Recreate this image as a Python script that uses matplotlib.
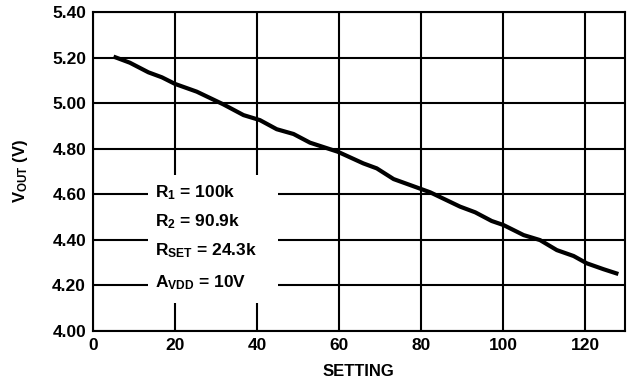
import matplotlib.pyplot as plt
from matplotlib.patches import Rectangle

plt.rcParams['font.family'] = ['Liberation Sans', 'DejaVu Sans']
plt.rcParams['font.weight'] = 'bold'
plt.rcParams['mathtext.default'] = 'regular'

# curve
setting = [5, 9, 13.5, 16.8, 20, 25.3, 31.8, 36.7, 40.7, 44.8, 48.9, 52.9, 59.7,
           65.9, 69.2, 73.3, 77.3, 82.2, 89.5, 93.2, 97.2, 100.1, 105, 109,
           113.1, 117.2, 120.4, 124.5, 128.1]
vout = [5.204, 5.177, 5.135, 5.113, 5.084, 5.05, 4.994, 4.947, 4.925, 4.885, 4.864,
        4.826, 4.786, 4.735, 4.713, 4.666, 4.64, 4.608, 4.545, 4.52, 4.482, 4.464,
        4.42, 4.398, 4.354, 4.328, 4.296, 4.27, 4.249]

xticks = [0, 20, 40, 60, 80, 100, 120]
yticks = [4.00, 4.20, 4.40, 4.60, 4.80, 5.00, 5.20, 5.40]
notes = ['R$_1$ = 100k', 'R$_2$ = 90.9k', 'R$_{SET}$ = 24.3k', 'A$_{VDD}$ = 10V']
note_y = [4.605, 4.477, 4.352, 4.213]

fig = plt.figure(figsize=(6.31, 3.84), dpi=100)
ax = fig.add_axes([0.1474, 0.1388, 0.8423, 0.83])

ax.plot(setting, vout, color='black', lw=3.0, zorder=4, solid_capstyle='butt')

ax.set_xlim(0, 129.6)
ax.set_ylim(4.0, 5.4)
ax.set_xticks(xticks)
ax.set_yticks(yticks)
ax.set_yticklabels([f'{v:.2f}' for v in yticks])
ax.grid(True, color='black', lw=1.5)
ax.set_axisbelow(True)
ax.tick_params(length=0, labelsize=12.5, pad=5)
for s in ax.spines.values():
    s.set_linewidth(1.5)

# white panel behind the annotation
ax.add_patch(Rectangle((13.4, 4.121), 31.7, 0.563, facecolor='white',
                       edgecolor='none', zorder=2))
for txt, y in zip(notes, note_y):
    ax.text(15.1, y, txt, fontsize=12.5, fontweight='bold', va='center', zorder=3)

ax.set_xlabel('SETTING', fontsize=12, fontweight='bold', labelpad=8)
ax.set_ylabel('V$_{OUT}$ (V)', fontsize=12, fontweight='bold', labelpad=16)

fig.savefig('out.png', dpi=100)
